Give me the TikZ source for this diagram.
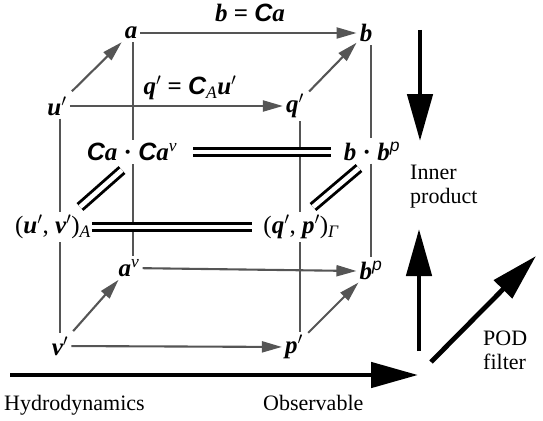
\documentclass[tikz,border=0pt]{standalone}
\usepackage{fontspec}
\setmainfont{Liberation Serif}
\newfontfamily\sansf{Liberation Sans}
\usetikzlibrary{arrows.meta}
\definecolor{lgray}{RGB}{85,85,85}
\newcommand{\bv}[1]{{\bfseries\itshape #1}}
\newcommand{\Cc}{{\sansf\bfseries\itshape C}}
\newcommand{\pr}{$^{\prime}$}
\begin{document}
\begin{tikzpicture}[x=1pt,y=-1pt,
  lab/.style={font=\fontsize{25}{27}\selectfont, inner sep=3pt},
  gline/.style={draw=lgray, line width=2.1pt},
  garrow/.style={gline, -{Triangle[length=20pt,width=11pt]}},
  dbl/.style={draw=black, line width=2.9pt, double=white, double distance=4.6pt},
  bigarrow/.style={draw=black, line width=4.8pt, -{Triangle[length=47pt,width=25pt]}},
  txt/.style={font=\fontsize{22}{24}\selectfont, align=left, inner sep=0pt}]
\useasboundingbox (0,0) rectangle (543,420);
% nodes
\node[lab] (a) at (131,33) {\bv{a}};
\node[lab] (b) at (366,33) {\bv{b}};
\node[lab] (u) at (57,106) {\bv{u}\pr};
\node[lab] (q) at (295,106) {\bv{q}\pr};
\node[lab] (caca) at (132,152) {\Cc\bv{a} \textbf{·} \Cc\bv{a}\textsuperscript{\itshape v}};
\node[lab] (bbp) at (372,151) {\bv{b} \textbf{·} \bv{b}\textsuperscript{\sansf\itshape p}};
\node[lab] (uvA) at (53,227) {(\bv{u}\pr, \bv{v}\pr)\textsubscript{\itshape A}};
\node[lab] (qpG) at (301,227) {(\bv{q}\pr, \bv{p}\pr)\textsubscript{\itshape Γ}};
\node[lab] (av) at (129,268) {\bv{a}\textsuperscript{\itshape v}};
\node[lab] (bp) at (371,270) {\bv{b}\textsuperscript{\sansf\itshape p}};
\node[lab] (v) at (60,346) {\bv{v}\pr};
\node[lab] (p) at (294,347) {\bv{p}\pr};
% edge labels
\node[lab] (lab1) at (250,13) {\bv{b} \textbf{=} \Cc\bv{a}};
\node[lab] (lab2) at (190,88) {\bv{q}\pr\ \textbf{=} \Cc\textsubscript{\itshape A}\bv{u}\pr};
% horizontal arrows
\draw[garrow] (a) -- (b);
\draw[garrow] (u) -- (q);
\draw[garrow] (av) -- ([yshift=-1pt]bp.west);
\draw[garrow] (v) -- (p);
% diagonal arrows
\draw[garrow, shorten <=3pt] (u) -- (a);
\draw[garrow, shorten <=3pt] (q) -- (b);
\draw[garrow, shorten <=3pt] (v) -- (av);
\draw[garrow, shorten <=3pt] (p) -- (bp);
% vertical lines
\draw[gline] (a.south -| 133,0) -- (caca.north -| 133,0);
\draw[gline] (caca.south -| 133,0) -- (av.north -| 133,0);
\draw[gline] (b.south -| 371,0) -- (bbp.north -| 371,0);
\draw[gline] (bbp.south -| 371,0) -- (bp.north -| 371,0);
\draw[gline] (u.south -| 60,0) -- (uvA.north -| 60,0);
\draw[gline] (uvA.south -| 60,0) -- (v.north -| 60,0);
\draw[gline] (q.south -| 300,0) -- (qpG.north -| 300,0);
\draw[gline] (qpG.south -| 300,0) -- (p.north -| 300,0);
% double lines
\coordinate (h1s) at (193,152);
\coordinate (h1e) at (331,152);
\coordinate (h2s) at (92,227);
\coordinate (h2e) at (252,227);
\draw[dbl] (h1s) -- (h1e);
\draw[dbl] (h2s) -- (h2e);
\coordinate (d1s) at (122,170);
\coordinate (d1e) at (80,207);
\coordinate (d2s) at (359,168);
\coordinate (d2e) at (313,207);
\draw[dbl] (d1s) -- (d1e);
\draw[dbl] (d2s) -- (d2e);
% big arrows
\coordinate (dn1) at (420,30);
\coordinate (dn2) at (420,141);
\coordinate (up1) at (419,351);
\coordinate (up2) at (419,229);
\coordinate (hz1) at (10,375);
\coordinate (hz2) at (418,375);
\coordinate (dg1) at (431,362);
\coordinate (dg2) at (536,256);
\draw[bigarrow] (dn1) -- (dn2);
\draw[bigarrow] (up1) -- (up2);
\draw[bigarrow] (hz1) -- (hz2);
\draw[bigarrow] (dg1) -- (dg2);
% texts
\node[txt, anchor=west] (inner) at (410,187) {Inner\\product};
\node[txt, anchor=west] (pod) at (483,350) {POD\\filter};
\node[txt, anchor=base west] (hyd) at (4,410) {Hydrodynamics};
\node[txt, anchor=base west] (obs) at (263,410) {Observable};
\end{tikzpicture}
\end{document}
